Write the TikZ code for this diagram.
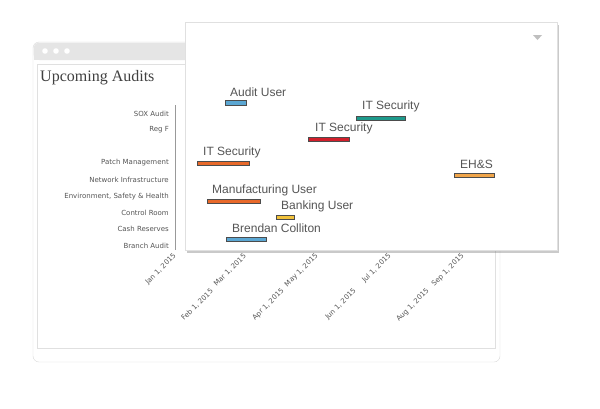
\documentclass[tikz,border=0pt]{standalone}
\usepackage{fontspec}
\setmainfont{Liberation Sans}
\newfontfamily\serifttl{Liberation Serif}
\newfontfamily\smallf{DejaVu Sans}
\usetikzlibrary{shadows}
\definecolor{cblue}{HTML}{5BA7D3}
\definecolor{cteal}{HTML}{1E9A8C}
\definecolor{cred}{HTML}{D21F2B}
\definecolor{corange}{HTML}{E8692A}
\definecolor{cyel}{HTML}{F2C23B}
\definecolor{cgold}{HTML}{F0A54A}
\definecolor{txt}{HTML}{555555}
\tikzset{
 bar/.style={draw=black!70,line width=0.6pt},
 blab/.style={anchor=south west,inner sep=0,font=\fontsize{12}{12}\selectfont,text=txt},
 ylab/.style={anchor=east,inner sep=0,font=\smallf\fontsize{7}{7}\selectfont,text=txt},
 dlab/.style={anchor=east,rotate=45,inner sep=0,font=\smallf\fontsize{7}{7}\selectfont,text=txt}
}
\begin{document}
\begin{tikzpicture}[x=1pt,y=-1pt]
\useasboundingbox (0,0) rectangle (600,408);
% back window
\draw[black!15,fill=white,rounded corners=6] (33,42) rectangle (500,362);
\fill[black!10,rounded corners=6] (33.5,42.5) rectangle (499.5,60);
\fill[black!10] (33.5,54) rectangle (499.5,60);
\foreach \x in {45,56,67} \fill[white] (\x,51) circle (2.8);
\draw[black!12] (37,64) rectangle (495,348);
\node[anchor=west,inner sep=0,font=\serifttl\fontsize{16}{16}\selectfont,text=black!75] (title) at (40,78) {Upcoming Audits};
\draw[black!40] (175,105) -- (175,250);
\foreach \t/\y in {SOX Audit/114,Reg F/130,Patch Management/163,Network Infrastructure/180,{Environment, Safety \& Health}/197,Control Room/213,Cash Reserves/229,Branch Audit/246}
  \node[ylab] at (169,\y) {\t};
\foreach \t/\x/\y in {{Jan 1, 2015}/175/255,{Mar 1, 2015}/245/255,{May 1, 2015}/317/255,{Jul 1, 2015}/390/255,{Sep 1, 2015}/463/255,
  {Feb 1, 2015}/212/290,{Apr 1, 2015}/283/290,{Jun 1, 2015}/355/290,{Aug 1, 2015}/428/290}
  \node[dlab] at (\x,\y) {\t};
\fill[cblue!60!black] (212,246) rectangle (246,251);
% front panel
\fill[white,drop shadow={shadow xshift=2pt,shadow yshift=-3pt,opacity=0.35,color=black!60}] (185,22) rectangle (557,250);
\draw[black!12] (185,22) rectangle (557,250);
\fill[black!25] (533,35) -- (542,35) -- (537.5,40) -- cycle;
% bars
\draw[bar,fill=cblue] (225,100) rectangle (246,105);
\node[blab] at (230,97) {Audit User};
\draw[bar,fill=cteal] (356,116) rectangle (405,120);
\node[blab] at (362,112) {IT Security};
\draw[bar,fill=cred] (308,137) rectangle (349,141);
\node[blab] at (315,134) {IT Security};
\draw[bar,fill=corange] (197,161) rectangle (249,165);
\node[blab] at (203,158) {IT Security};
\draw[bar,fill=cgold] (454,173) rectangle (494,177);
\node[blab] at (460,169) {EH\&S};
\draw[bar,fill=corange] (207,199) rectangle (260,203);
\node[blab] at (212,196) {Manufacturing User};
\draw[bar,fill=cyel] (276,215) rectangle (294,219);
\node[blab] at (281,212) {Banking User};
\draw[bar,fill=cblue] (226,237) rectangle (266,241);
\node[blab] at (232,233) {Brendan Colliton};
\end{tikzpicture}
\end{document}
